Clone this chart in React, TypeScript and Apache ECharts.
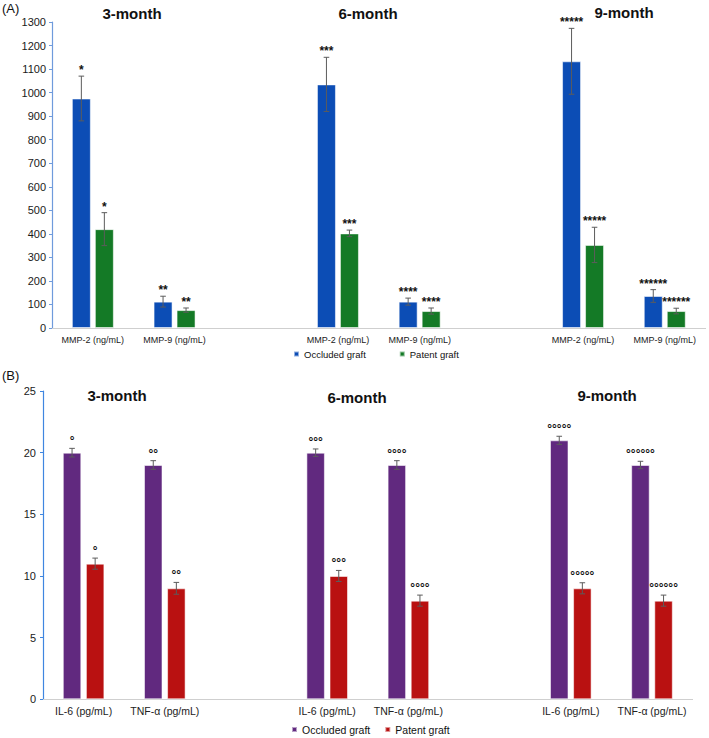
import React, { useEffect, useRef } from 'react';
import * as echarts from 'echarts';

// ---------- Data (A): MMPs ----------
const topCategories = ['MMP-2 (ng/mL)', 'MMP-9 (ng/mL)', '', 'MMP-2 (ng/mL)', 'MMP-9 (ng/mL)', '', 'MMP-2 (ng/mL)', 'MMP-9 (ng/mL)'];
const topOccluded = [975, 112, null, 1035, 112, null, 1133, 136];
const topOccludedErr = [95, 23, null, 115, 15, null, 140, 27];
const topPatent = [420, 76, null, 402, 72, null, 353, 72];
const topPatentErr = [70, 9, null, 14, 13, null, 75, 12];
const topMarks = ['*', '**', '', '***', '****', '', '*****', '******'];
const topTicks = { min: 0, max: 1300, interval: 100 };

// ---------- Data (B): cytokines ----------
const bottomCategories = ['IL-6 (pg/mL)', 'TNF-α (pg/mL)', '', 'IL-6 (pg/mL)', 'TNF-α (pg/mL)', '', 'IL-6 (pg/mL)', 'TNF-α (pg/mL)'];
const bottomOccluded = [20, 19, null, 20, 19, null, 21, 19];
const bottomOccludedErr = [0.35, 0.35, null, 0.3, 0.35, null, 0.33, 0.3];
const bottomPatent = [11, 9, null, 10, 8, null, 9, 8];
const bottomPatentErr = [0.45, 0.48, null, 0.45, 0.45, null, 0.45, 0.45];
const bottomMarks = ['°', '°°', '', '°°°', '°°°°', '', '°°°°°', '°°°°°°'];
const bottomTicks = { min: 0, max: 25, interval: 5 };

const periods = ['3-month', '6-month', '9-month'];
const seriesNames = ['Occluded graft', 'Patent graft'];

const FONT = '"Liberation Sans", Arial, Helvetica, sans-serif';
const BLUE = '#0c4db5';
const GREEN = '#147a26';
const PURPLE = '#61297f';
const RED = '#b91111';

function errorSeries(
  id: string,
  gridIndex: number,
  values: (number | null)[],
  errs: (number | null)[],
  marks: string[],
  offset: number,
  markFont: string,
  markLift: number
) {
  const data: number[][] = [];
  const labels: string[] = [];
  values.forEach((v, i) => {
    if (v != null) {
      data.push([i, v, errs[i] as number]);
      labels.push(marks[i]);
    }
  });
  return {
    type: 'custom',
    id,
    name: id,
    xAxisIndex: gridIndex,
    yAxisIndex: gridIndex,
    silent: true,
    z: 5,
    data,
    renderItem: (params: any, api: any) => {
      const xi = api.value(0);
      const v = api.value(1);
      const e = api.value(2);
      const pTop = api.coord([xi, v + e]);
      const pBot = api.coord([xi, v - e]);
      const x = pTop[0] + offset;
      const c = 2.8;
      const st = { stroke: '#5c5c5c', lineWidth: 1 };
      return {
        type: 'group',
        children: [
          { type: 'line', shape: { x1: x, y1: pTop[1], x2: x, y2: pBot[1] }, style: st },
          { type: 'line', shape: { x1: x - c, y1: pTop[1], x2: x + c, y2: pTop[1] }, style: st },
          { type: 'line', shape: { x1: x - c, y1: pBot[1], x2: x + c, y2: pBot[1] }, style: st },
          {
            type: 'text',
            x,
            y: pTop[1] - markLift,
            style: {
              text: labels[params.dataIndex],
              align: 'center',
              verticalAlign: 'middle',
              fill: '#111',
              font: markFont,
            },
          },
        ],
      };
    },
  };
}

export default function App() {
  const ref = useRef<HTMLDivElement>(null);

  useEffect(() => {
    if (!ref.current) return;
    const chart = echarts.init(ref.current, undefined, { renderer: 'svg' });

    const topBarW = 19;
    const topGap = 4;
    const botBarW = 18.5;
    const botGap = 4.6;
    const topOff = topBarW / 2 + topGap / 2;
    const botOff = botBarW / 2 + botGap / 2;

    const barBorder = { borderColor: 'rgba(255,255,255,0.55)', borderWidth: 1 };

    const titleText = (text: string, x: number, y: number) => ({
      type: 'text',
      x,
      y,
      style: {
        text,
        align: 'center',
        verticalAlign: 'middle',
        fill: '#111',
        font: `bold 15px ${FONT}`,
      },
    });

    const option: any = {
      animation: false,
      backgroundColor: '#ffffff',
      textStyle: { fontFamily: FONT },
      grid: [
        { left: 52, top: 22, width: 653.6, height: 306 },
        { left: 43, top: 391, width: 649.6, height: 308.3 },
      ],
      legend: [
        {
          left: 293,
          top: 349,
          padding: 0,
          itemWidth: 5,
          itemHeight: 5,
          itemGap: 33,
          icon: 'rect',
          textStyle: { fontSize: 9.5, color: '#111', fontFamily: FONT },
          data: [
            { name: seriesNames[0], itemStyle: { color: BLUE } },
            { name: seriesNames[1], itemStyle: { color: GREEN } },
          ],
        },
        {
          left: 291,
          top: 724,
          padding: 0,
          itemWidth: 5,
          itemHeight: 5,
          itemGap: 14,
          icon: 'rect',
          textStyle: { fontSize: 10.5, color: '#111', fontFamily: FONT },
          data: [
            { name: seriesNames[0], itemStyle: { color: PURPLE } },
            { name: seriesNames[1], itemStyle: { color: RED } },
          ],
        },
      ],
      xAxis: [
        {
          type: 'category',
          gridIndex: 0,
          data: topCategories,
          axisLine: { lineStyle: { color: '#cfcfcf', width: 1 } },
          axisTick: { show: false },
          axisLabel: { fontSize: 9, color: '#222', margin: 7, interval: 0 },
        },
        {
          type: 'category',
          gridIndex: 1,
          data: bottomCategories,
          axisLine: { lineStyle: { color: '#cfcfcf', width: 1 } },
          axisTick: { show: false },
          axisLabel: { fontSize: 10.5, color: '#222', margin: 6, interval: 0 },
        },
      ],
      yAxis: [
        {
          type: 'value',
          gridIndex: 0,
          min: topTicks.min,
          max: topTicks.max,
          interval: topTicks.interval,
          axisLine: { show: true, lineStyle: { color: '#6f9bdc', width: 1.2 } },
          axisTick: { show: true, length: 3, lineStyle: { color: '#6f9bdc' } },
          splitLine: { show: false },
          axisLabel: { fontSize: 11, color: '#1a1a1a', margin: 6, formatter: (v: number) => String(v) },
        },
        {
          type: 'value',
          gridIndex: 1,
          min: bottomTicks.min,
          max: bottomTicks.max,
          interval: bottomTicks.interval,
          axisLine: { show: true, lineStyle: { color: '#3f86e0', width: 1.2 } },
          axisTick: { show: true, length: 3, lineStyle: { color: '#3f86e0' } },
          splitLine: { show: false },
          axisLabel: { fontSize: 11, color: '#1a1a1a', margin: 7, formatter: (v: number) => String(v) },
        },
      ],
      series: [
        {
          type: 'bar',
          name: seriesNames[0],
          xAxisIndex: 0,
          yAxisIndex: 0,
          data: topOccluded.map((v) => (v == null ? '-' : v)),
          barWidth: topBarW,
          barGap: `${(topGap / topBarW) * 100}%`,
          itemStyle: { color: BLUE, ...barBorder },
        },
        {
          type: 'bar',
          name: seriesNames[1],
          xAxisIndex: 0,
          yAxisIndex: 0,
          data: topPatent.map((v) => (v == null ? '-' : v)),
          barWidth: topBarW,
          barGap: `${(topGap / topBarW) * 100}%`,
          itemStyle: { color: GREEN, ...barBorder },
        },
        {
          type: 'bar',
          name: seriesNames[0],
          xAxisIndex: 1,
          yAxisIndex: 1,
          data: bottomOccluded.map((v) => (v == null ? '-' : v)),
          barWidth: botBarW,
          barGap: `${(botGap / botBarW) * 100}%`,
          itemStyle: { color: PURPLE, ...barBorder },
        },
        {
          type: 'bar',
          name: seriesNames[1],
          xAxisIndex: 1,
          yAxisIndex: 1,
          data: bottomPatent.map((v) => (v == null ? '-' : v)),
          barWidth: botBarW,
          barGap: `${(botGap / botBarW) * 100}%`,
          itemStyle: { color: RED, ...barBorder },
        },
        errorSeries('errTopOcc', 0, topOccluded, topOccludedErr, topMarks, -topOff, `bold 12px ${FONT}`, 6),
        errorSeries('errTopPat', 0, topPatent, topPatentErr, topMarks, topOff, `bold 12px ${FONT}`, 6),
        errorSeries('errBotOcc', 1, bottomOccluded, bottomOccludedErr, bottomMarks, -botOff, `bold 12px ${FONT}`, 7),
        errorSeries('errBotPat', 1, bottomPatent, bottomPatentErr, bottomMarks, botOff, `bold 12px ${FONT}`, 7),
      ],
      graphic: [
        { type: 'text', x: 2, y: 8, style: { text: '(A)', verticalAlign: 'middle', fill: '#111', font: `13px ${FONT}` } },
        { type: 'text', x: 2, y: 375, style: { text: '(B)', verticalAlign: 'middle', fill: '#111', font: `13px ${FONT}` } },
        titleText(periods[0], 132, 13),
        titleText(periods[1], 368, 13),
        titleText(periods[2], 624, 12),
        titleText(periods[0], 117, 395),
        titleText(periods[1], 357, 397),
        titleText(periods[2], 607, 395),
      ],
    };

    chart.setOption(option);
    return () => chart.dispose();
  }, []);

  return (
    <div
      ref={ref}
      style={{ position: 'absolute', left: 0, top: 0, width: 709, height: 738, background: '#fff' }}
    />
  );
}
